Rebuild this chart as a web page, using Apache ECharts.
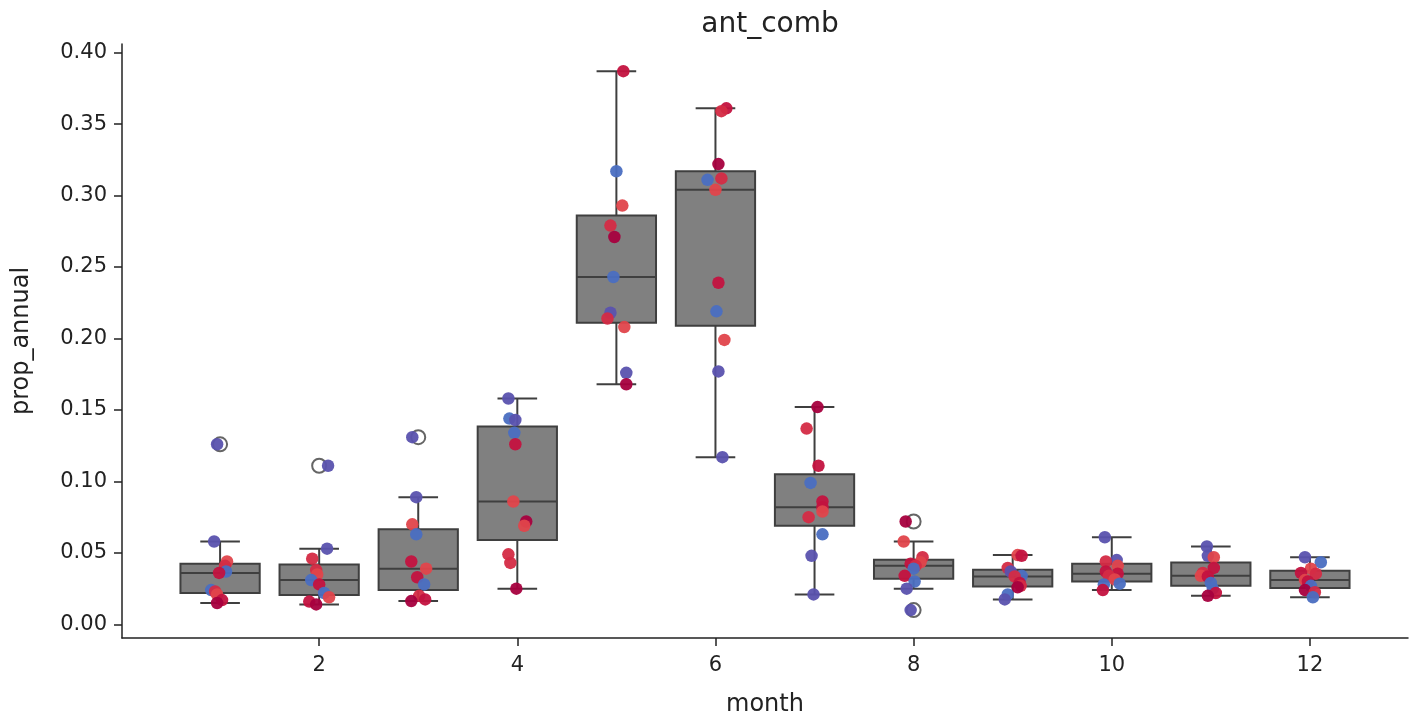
<!DOCTYPE html>
<html>
<head>
<meta charset="utf-8">
<title>ant_comb</title>
<script src="https://cdn.jsdelivr.net/npm/echarts@6/dist/echarts.min.js"></script>
<style>
  html, body { margin: 0; padding: 0; background: #ffffff; }
  #chart { width: 1413px; height: 719px; }
</style>
</head>
<body>
<div id="chart"></div>
<script>
// Months on the x axis and the tick marks shown on each axis
const months = [1, 2, 3, 4, 5, 6, 7, 8, 9, 10, 11, 12];
const xTicks = [2, 4, 6, 8, 10, 12];
const yTicks = [0, 0.05, 0.10, 0.15, 0.20, 0.25, 0.30, 0.35, 0.40];

// Annual proportion for each year, one list per month
const propAnnual = [
  [0.126, 0.058, 0.044, 0.041, 0.037, 0.036, 0.024, 0.023, 0.021, 0.017, 0.015],
  [0.111, 0.053, 0.046, 0.038, 0.035, 0.031, 0.028, 0.022, 0.019, 0.016, 0.014],
  [0.131, 0.089, 0.070, 0.063, 0.044, 0.039, 0.033, 0.028, 0.020, 0.0175, 0.0163],
  [0.158, 0.144, 0.143, 0.134, 0.126, 0.086, 0.072, 0.069, 0.049, 0.043, 0.025],
  [0.387, 0.317, 0.293, 0.279, 0.271, 0.243, 0.218, 0.214, 0.208, 0.176, 0.168],
  [0.361, 0.359, 0.322, 0.312, 0.311, 0.304, 0.239, 0.219, 0.199, 0.177, 0.117],
  [0.152, 0.137, 0.111, 0.099, 0.086, 0.082, 0.079, 0.075, 0.063, 0.048, 0.021],
  [0.072, 0.058, 0.047, 0.0435, 0.0425, 0.041, 0.039, 0.034, 0.030, 0.025, 0.010],
  [0.0485, 0.048, 0.0395, 0.037, 0.034, 0.0335, 0.029, 0.027, 0.026, 0.021, 0.0175],
  [0.061, 0.045, 0.044, 0.041, 0.037, 0.0355, 0.034, 0.0315, 0.0285, 0.028, 0.024],
  [0.0545, 0.048, 0.047, 0.0395, 0.036, 0.034, 0.0335, 0.029, 0.025, 0.022, 0.020],
  [0.047, 0.0435, 0.039, 0.036, 0.0355, 0.031, 0.030, 0.027, 0.024, 0.0225, 0.019]
];

// Year hue of each point (index into the palette below)
const yearTone = [
  [5, 5, 3, 2, 4, 1, 4, 2, 3, 1, 0],
  [5, 5, 2, 2, 3, 4, 1, 4, 3, 1, 0],
  [5, 5, 3, 4, 1, 3, 1, 4, 2, 1, 0],
  [5, 4, 5, 4, 1, 3, 0, 3, 2, 2, 0],
  [1, 4, 3, 2, 0, 4, 5, 2, 3, 5, 0],
  [1, 2, 0, 2, 4, 3, 1, 4, 3, 5, 5],
  [0, 2, 1, 4, 1, 1, 3, 2, 4, 5, 5],
  [0, 3, 2, 3, 1, 2, 4, 1, 4, 5, 5],
  [3, 1, 2, 5, 4, 2, 1, 2, 0, 4, 5],
  [5, 5, 2, 3, 1, 1, 2, 3, 4, 4, 1],
  [5, 5, 3, 1, 2, 3, 1, 4, 4, 1, 0],
  [5, 4, 3, 1, 2, 3, 1, 4, 0, 2, 4]
];

// Horizontal strip jitter of each point, in months
const jitter = [
  [-0.03, -0.06, 0.07, 0.05, 0.06, -0.01, -0.09, -0.05, -0.03, 0.02, -0.03],
  [0.09, 0.08, -0.07, -0.03, -0.02, -0.08, 0.00, 0.05, 0.10, -0.10, -0.03],
  [-0.06, -0.02, -0.06, -0.02, -0.07, 0.08, -0.01, 0.06, 0.01, 0.07, -0.07],
  [-0.09, -0.08, -0.02, -0.03, -0.02, -0.04, 0.09, 0.07, -0.09, -0.07, -0.01],
  [0.07, 0.00, 0.06, -0.06, -0.02, -0.03, -0.06, -0.09, 0.08, 0.10, 0.10],
  [0.11, 0.06, 0.03, 0.06, -0.08, 0.00, 0.03, 0.01, 0.09, 0.03, 0.07],
  [0.03, -0.08, 0.04, -0.04, 0.08, 0.08, 0.08, -0.06, 0.08, -0.03, -0.01],
  [-0.08, -0.10, 0.09, 0.07, -0.03, 0.02, 0.00, -0.09, 0.01, -0.07, -0.03],
  [0.05, 0.09, -0.05, -0.02, 0.09, 0.02, 0.07, 0.08, 0.05, -0.05, -0.08],
  [-0.07, 0.05, -0.06, 0.06, -0.06, 0.06, -0.03, 0.03, 0.08, -0.08, -0.09],
  [-0.04, -0.03, 0.03, 0.03, -0.08, -0.10, -0.03, 0.00, 0.02, 0.05, -0.03],
  [-0.05, 0.11, 0.01, -0.09, 0.06, -0.05, -0.02, 0.01, -0.05, 0.05, 0.03]
];

const palette = ['#a6003e', '#c3123f', '#d42b44', '#e0444b', '#4a6ec1', '#5a52ae'];

const INK = '#222222';
const BOX_LINE = '#3f3f3f';
const FONT = 'DejaVu Sans';

// Linear-interpolated quantile on sorted values
function quantile(sorted, p) {
  const pos = (sorted.length - 1) * p;
  const lo = Math.floor(pos), hi = Math.ceil(pos);
  return sorted[lo] + (sorted[hi] - sorted[lo]) * (pos - lo);
}

// Box statistics with whiskers at 1.5 IQR, plus outliers
const boxData = [];
const fliers = [];
months.forEach((m, i) => {
  const s = propAnnual[i].slice().sort((a, b) => a - b);
  const q1 = quantile(s, 0.25), med = quantile(s, 0.5), q3 = quantile(s, 0.75);
  const iqr = q3 - q1;
  const inside = s.filter(v => v >= q1 - 1.5 * iqr && v <= q3 + 1.5 * iqr);
  boxData.push([m, inside[0], q1, med, q3, inside[inside.length - 1]]);
  s.forEach(v => { if (v < q1 - 1.5 * iqr || v > q3 + 1.5 * iqr) fliers.push([m, v]); });
});

const points = [];
months.forEach((m, i) => {
  propAnnual[i].forEach((v, k) => {
    points.push({
      value: [m + jitter[i][k], v],
      itemStyle: { color: palette[yearTone[i][k]] }
    });
  });
});

function renderBox(params, api) {
  const x = api.value(0);
  const pLo = api.coord([x, api.value(1)]);
  const pQ1 = api.coord([x, api.value(2)]);
  const pMed = api.coord([x, api.value(3)]);
  const pQ3 = api.coord([x, api.value(4)]);
  const pHi = api.coord([x, api.value(5)]);
  const half = api.size([0.8, 0])[0] / 2;
  const cap = half / 2;
  const cx = pQ1[0];
  const ls = { stroke: BOX_LINE, lineWidth: 2 };
  return {
    type: 'group',
    children: [
      { type: 'line', shape: { x1: cx, y1: pQ1[1], x2: cx, y2: pLo[1] }, style: ls },
      { type: 'line', shape: { x1: cx, y1: pQ3[1], x2: cx, y2: pHi[1] }, style: ls },
      { type: 'line', shape: { x1: cx - cap, y1: pLo[1], x2: cx + cap, y2: pLo[1] }, style: ls },
      { type: 'line', shape: { x1: cx - cap, y1: pHi[1], x2: cx + cap, y2: pHi[1] }, style: ls },
      { type: 'rect', shape: { x: cx - half, y: pQ3[1], width: 2 * half, height: pQ1[1] - pQ3[1] },
        style: { fill: '#808080', stroke: BOX_LINE, lineWidth: 2 } },
      { type: 'line', shape: { x1: cx - half, y1: pMed[1], x2: cx + half, y2: pMed[1] }, style: ls }
    ]
  };
}

const chart = echarts.init(document.getElementById('chart'), null, { renderer: 'canvas' });
chart.setOption({
  animation: false,
  backgroundColor: '#ffffff',
  textStyle: { fontFamily: FONT, color: INK },
  title: {
    text: 'ant_comb',
    left: 765, top: 6, textAlign: 'center',
    textStyle: { fontFamily: FONT, fontSize: 28, fontWeight: 'normal', color: INK }
  },
  grid: { left: 122, right: 5, top: 44, bottom: 81, containLabel: false, outerBoundsMode: 'none' },
  xAxis: {
    type: 'value', min: 0.01, max: 12.99,
    name: 'month', nameLocation: 'middle', nameGap: 55,
    nameTextStyle: { fontFamily: FONT, fontSize: 24, color: INK },
    axisLine: { show: true, onZero: false, lineStyle: { color: INK, width: 1.5 } },
    axisTick: { show: true, length: 8, lineStyle: { color: INK, width: 1.5 }, customValues: xTicks },
    axisLabel: { fontFamily: FONT, fontSize: 21, color: INK, margin: 17, customValues: xTicks },
    splitLine: { show: false }
  },
  yAxis: {
    type: 'value', min: -0.0095, max: 0.406,
    name: 'prop_annual', nameLocation: 'middle', nameGap: 88, nameRotate: 90,
    nameTextStyle: { fontFamily: FONT, fontSize: 24, color: INK },
    axisLine: { show: true, onZero: false, lineStyle: { color: INK, width: 1.5 } },
    axisTick: { show: true, length: 8, lineStyle: { color: INK, width: 1.5 }, customValues: yTicks },
    axisLabel: { fontFamily: FONT, fontSize: 21, color: INK, margin: 15,
      customValues: yTicks, formatter: v => v.toFixed(2) },
    splitLine: { show: false }
  },
  series: [
    {
      type: 'custom', name: 'box', renderItem: renderBox,
      data: boxData, encode: { x: 0, y: [1, 2, 3, 4, 5] }, z: 2
    },
    {
      type: 'scatter', name: 'outliers', data: fliers, symbol: 'circle', symbolSize: 14,
      itemStyle: { color: 'rgba(0,0,0,0)', borderColor: BOX_LINE, borderWidth: 2 }, z: 3
    },
    {
      type: 'scatter', name: 'years', data: points, symbol: 'circle', symbolSize: 12.5,
      itemStyle: { opacity: 0.95 }, z: 4
    }
  ]
});
</script>
</body>
</html>
